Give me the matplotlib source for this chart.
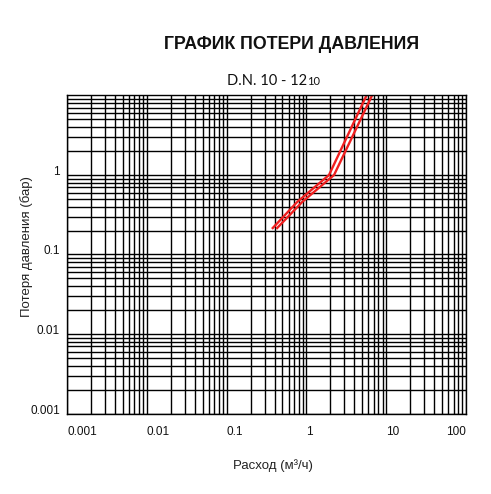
import matplotlib
matplotlib.use("Agg")
import matplotlib.pyplot as plt
from matplotlib.ticker import LogLocator, NullFormatter

# --- DATA ---
x_ticks = [0.001, 0.01, 0.1, 1, 10, 100]
x_tick_labels = ["0.001", "0.01", "0.1", "1", "10", "100"]
y_ticks = [0.001, 0.01, 0.1, 1]
y_tick_labels = ["0.001", "0.01", "0.1", "1"]

# two limit curves of the pressure loss band
loss_bar = [0.21, 0.46, 1.0, 10.0]
flow_low = [0.37, 0.77, 1.92, 5.66]
flow_high = [0.42, 0.89, 2.22, 6.64]

title = "ГРАФИК ПОТЕРИ ДАВЛЕНИЯ"
subtitle = "D.N. 10 - 12"
subtitle_small = "10"
xlabel = "Расход (м³/ч)"
ylabel = "Потеря давления (бар)"

plt.rcParams['font.family'] = ['Liberation Sans', 'DejaVu Sans']

fig = plt.figure(figsize=(4.91, 4.94), dpi=100)
ax = fig.add_axes([67 / 491, 1 - 413.5 / 494, 399 / 491, 318 / 494])

ax.set_xscale("log")
ax.set_yscale("log")
ax.set_xlim(0.001, 100)
ax.set_ylim(0.001, 10)

ax.xaxis.set_minor_locator(LogLocator(base=10, subs=range(2, 10), numticks=20))
ax.yaxis.set_minor_locator(LogLocator(base=10, subs=range(2, 10), numticks=20))
ax.xaxis.set_minor_formatter(NullFormatter())
ax.yaxis.set_minor_formatter(NullFormatter())
ax.grid(which="both", color="black", lw=1.0)
ax.set_axisbelow(True)
for s in ax.spines.values():
    s.set_color("black")
    s.set_linewidth(1.0)

ax.set_xticks(x_ticks, x_tick_labels)
ax.set_yticks(y_ticks, y_tick_labels)
ax.tick_params(which="both", length=0)
ax.tick_params(axis="x", pad=9, labelsize=8.5, labelcolor="#111111")
ax.tick_params(axis="y", pad=5, labelsize=8.5, labelcolor="#111111")
xl = ax.get_xticklabels()
for lab in xl[:-1]:
    lab.set_ha("left")
xl[-1].set_ha("right")
for lab in ax.get_yticklabels():
    lab.set_va("baseline")

ax.plot(flow_low, loss_bar, color="#f02020", lw=1.7, solid_capstyle="butt")
ax.plot(flow_high, loss_bar, color="#f02020", lw=1.7, solid_capstyle="butt")

fig.text(0.593, 0.900, title, ha="center", va="baseline", fontsize=12.8,
         fontweight="bold", color="#111111")
fig.text(0.6246, 0.828, subtitle, ha="right", va="baseline", fontsize=10.5,
         color="#111111", family=["Lato", "DejaVu Sans"])
fig.text(0.6246, 0.828, subtitle_small, ha="left", va="baseline", fontsize=8,
         color="#111111", family=["Lato", "DejaVu Sans"])

fig.text(273 / 491, 1 - 466 / 494, xlabel, ha="center", va="center",
         fontsize=9.5, color="#222222")
fig.text(27 / 491, 1 - 247 / 494, ylabel, ha="center", va="center",
         rotation=90, fontsize=9.5, color="#222222")

fig.savefig("out.png", dpi=100)
